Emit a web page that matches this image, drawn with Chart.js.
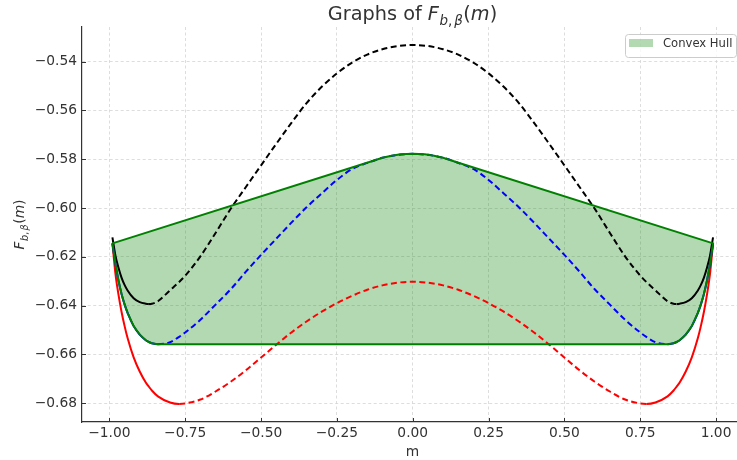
<!DOCTYPE html>
<html>
<head>
<meta charset="utf-8">
<script src="https://cdn.jsdelivr.net/npm/chart.js@4.4.0/dist/chart.umd.min.js"></script>
<style>
  html, body { margin: 0; padding: 0; background: #fff; }
  #wrap { width: 737px; height: 460px; position: relative; }
</style>
</head>
<body>
<div id="wrap"><canvas id="chart"></canvas></div>
<script>
// sample points along m (shared by the three curves)
const mValues = [
  -0.99, -0.98, -0.97, -0.96, -0.95, -0.94, -0.92, -0.90, -0.88, -0.87, -0.86, -0.84,
  -0.80, -0.77, -0.75, -0.70, -0.65, -0.60, -0.55, -0.50, -0.45, -0.40, -0.35, -0.30,
  -0.25, -0.20, -0.15, -0.10, -0.05, 0.00, 0.05, 0.10, 0.15, 0.20, 0.25, 0.30, 0.35,
  0.40, 0.45, 0.50, 0.55, 0.60, 0.65, 0.70, 0.75, 0.77, 0.80, 0.84, 0.86, 0.87, 0.88,
  0.90, 0.92, 0.94, 0.95, 0.96, 0.97, 0.98, 0.99
];

const redF = [
  -0.6145, -0.6270, -0.6355, -0.6425, -0.6483, -0.6533, -0.6612, -0.6670, -0.6715, -0.6732, -0.6748, -0.6772,
  -0.6797, -0.6803, -0.6801, -0.6785, -0.6752, -0.6712, -0.6665, -0.6613, -0.6560, -0.6510, -0.6465, -0.6425,
  -0.6390, -0.6360, -0.6335, -0.6317, -0.6306, -0.6302, -0.6306, -0.6317, -0.6335, -0.6360, -0.6390, -0.6425, -0.6465,
  -0.6510, -0.6560, -0.6613, -0.6665, -0.6712, -0.6752, -0.6785, -0.6801, -0.6803, -0.6797, -0.6772, -0.6748, -0.6732, -0.6715,
  -0.6670, -0.6612, -0.6533, -0.6483, -0.6425, -0.6355, -0.6270, -0.6145
];

const blackF = [
  -0.6120, -0.6195, -0.6245, -0.6285, -0.6315, -0.6338, -0.6370, -0.6386, -0.6392, -0.6393, -0.6392, -0.6382,
  -0.6337, -0.6303, -0.6277, -0.6198, -0.6102, -0.6003, -0.5914, -0.5825, -0.5737, -0.5651, -0.5570, -0.5503,
  -0.5448, -0.5404, -0.5371, -0.5349, -0.5336, -0.5332, -0.5336, -0.5349, -0.5371, -0.5404, -0.5448, -0.5503, -0.5570,
  -0.5651, -0.5737, -0.5825, -0.5914, -0.6003, -0.6102, -0.6198, -0.6277, -0.6303, -0.6337, -0.6382, -0.6392, -0.6393, -0.6392,
  -0.6386, -0.6370, -0.6338, -0.6315, -0.6285, -0.6245, -0.6195, -0.6120
];

const blueF = [
  -0.6145, -0.6230, -0.6298, -0.6352, -0.6395, -0.6430, -0.6484, -0.6519, -0.6542, -0.6549, -0.6554, -0.6558,
  -0.6550, -0.6528, -0.6510, -0.6458, -0.6396, -0.6333, -0.6261, -0.6192, -0.6126, -0.6060, -0.5997, -0.5940,
  -0.5885, -0.5840, -0.5815, -0.5794, -0.5782, -0.5778, -0.5782, -0.5794, -0.5815, -0.5840, -0.5885, -0.5940, -0.5997,
  -0.6060, -0.6126, -0.6192, -0.6261, -0.6333, -0.6396, -0.6458, -0.6510, -0.6528, -0.6550, -0.6558, -0.6554, -0.6549, -0.6542,
  -0.6519, -0.6484, -0.6430, -0.6395, -0.6352, -0.6298, -0.6230, -0.6145
];

// convex hull outline: upper edge left->right, then lower edge right->left
const hullUpperM = [-0.99, -0.13, -0.10, -0.07, -0.04, 0.00, 0.04, 0.07, 0.10, 0.13, 0.99];
const hullUpperF = [-0.6145, -0.5806, -0.5794, -0.5786, -0.5780, -0.5778, -0.5780, -0.5786, -0.5794, -0.5806, -0.6145];
const hullLowerM = [0.99, 0.98, 0.97, 0.96, 0.95, 0.94, 0.92, 0.90, 0.88, 0.87, 0.86, 0.84,
                    -0.84, -0.86, -0.87, -0.88, -0.90, -0.92, -0.94, -0.95, -0.96, -0.97, -0.98, -0.99];
const hullLowerF = [-0.6145, -0.6230, -0.6298, -0.6352, -0.6395, -0.6430, -0.6484, -0.6519, -0.6542, -0.6549, -0.6554, -0.6558,
                    -0.6558, -0.6554, -0.6549, -0.6542, -0.6519, -0.6484, -0.6430, -0.6395, -0.6352, -0.6298, -0.6230, -0.6145];

const xTicks = [-1.00, -0.75, -0.50, -0.25, 0.00, 0.25, 0.50, 0.75, 1.00];
const yTicks = [-0.68, -0.66, -0.64, -0.62, -0.60, -0.58, -0.56, -0.54];

const FONT = "'DejaVu Sans', sans-serif";
const TEXT = '#333333';

const pts = (xs, ys) => xs.map((x, i) => ({ x: x, y: ys[i] }));
const hullPts = pts(hullUpperM, hullUpperF).concat(pts(hullLowerM, hullLowerF));

// dashed between the two minima, solid outside
function dashInside(limit) {
  return ctx => (ctx.p0.parsed.x >= -limit - 1e-9 && ctx.p1.parsed.x <= limit + 1e-9) ? [6, 3.5] : undefined;
}

const fmt = v => (v < -1e-9 ? '\u2212' : '') + Math.abs(v).toFixed(2);

// draws a run of text pieces (mathtext-ish) starting at x
function drawRun(ctx, parts, x, y) {
  parts.forEach(p => {
    ctx.font = (p.it ? 'italic ' : '') + p.size + 'px ' + FONT;
    ctx.fillText(p.t, x, y + (p.dy || 0));
    x += ctx.measureText(p.t).width + (p.gap || 0);
  });
}
function runWidth(ctx, parts) {
  let w = 0;
  parts.forEach(p => {
    ctx.font = (p.it ? 'italic ' : '') + p.size + 'px ' + FONT;
    w += ctx.measureText(p.t).width + (p.gap || 0);
  });
  return w;
}
function mathLabel(big, small, dy) {
  return [
    { t: 'F', it: true, size: big, gap: 0.5 },
    { t: 'b', it: true, size: small, dy: dy },
    { t: ',', size: small, dy: dy, gap: big * 0.1 },
    { t: '\u03b2', it: true, size: small, dy: dy, gap: 0.5 },
    { t: '(', size: big },
    { t: 'm', it: true, size: big },
    { t: ')', size: big }
  ];
}

const decorPlugin = {
  id: 'decor',
  afterDraw(chart) {
    const ctx = chart.ctx;
    const area = chart.chartArea;
    const xs = chart.scales.x, ys = chart.scales.y;
    ctx.save();

    // inward tick marks
    ctx.strokeStyle = TEXT;
    ctx.lineWidth = 1;
    ctx.beginPath();
    xTicks.forEach(v => {
      const px = Math.round(xs.getPixelForValue(v)) + 0.5;
      ctx.moveTo(px, area.bottom); ctx.lineTo(px, area.bottom - 4);
    });
    yTicks.forEach(v => {
      const py = Math.round(ys.getPixelForValue(v)) + 0.5;
      ctx.moveTo(area.left, py); ctx.lineTo(area.left + 4, py);
    });
    ctx.stroke();

    ctx.fillStyle = TEXT;
    ctx.textBaseline = 'alphabetic';
    ctx.textAlign = 'left';

    // title
    const title = [{ t: 'Graphs of ', size: 19.3 }].concat(mathLabel(19.3, 13.5, 5));
    const cx = 412.5;
    drawRun(ctx, title, cx - runWidth(ctx, title) / 2, 20);

    // x label
    ctx.font = '13.8px ' + FONT;
    ctx.textAlign = 'center';
    ctx.fillText('m', cx, 456);
    ctx.textAlign = 'left';

    // y label (rotated)
    const yl = mathLabel(13.8, 9.7, 3.7);
    ctx.save();
    ctx.translate(24, (area.top + area.bottom) / 2);
    ctx.rotate(-Math.PI / 2);
    drawRun(ctx, yl, -runWidth(ctx, yl) / 2, 0);
    ctx.restore();

    // legend box
    const lx = 625, ly = 34, lw = 111, lh = 23;
    ctx.fillStyle = 'rgba(255,255,255,0.8)';
    ctx.strokeStyle = '#cccccc';
    ctx.lineWidth = 1;
    ctx.beginPath();
    ctx.roundRect(lx + 0.5, ly + 0.5, lw, lh, 3);
    ctx.fill();
    ctx.stroke();
    ctx.fillStyle = 'rgba(0,128,0,0.3)';
    ctx.fillRect(629, 39, 24, 8);
    ctx.fillStyle = TEXT;
    ctx.font = '11.6px ' + FONT;
    ctx.textBaseline = 'middle';
    ctx.fillText('Convex Hull', 663, 44);

    ctx.restore();
  }
};

new Chart(document.getElementById('chart'), {
  type: 'scatter',
  data: {
    datasets: [
      {
        label: 'hull edge',
        data: hullPts,
        showLine: true,
        borderColor: '#008000',
        borderWidth: 2,
        pointRadius: 0,
        tension: 0,
        fill: false
      },
      {
        label: 'blue',
        data: pts(mValues, blueF),
        showLine: true,
        borderColor: '#0000ff',
        borderWidth: 2,
        pointRadius: 0,
        cubicInterpolationMode: 'monotone',
        segment: { borderDash: dashInside(0.84) }
      },
      {
        label: 'black',
        data: pts(mValues, blackF),
        showLine: true,
        borderColor: '#000000',
        borderWidth: 2,
        pointRadius: 0,
        cubicInterpolationMode: 'monotone',
        segment: { borderDash: dashInside(0.87) }
      },
      {
        label: 'red',
        data: pts(mValues, redF),
        showLine: true,
        borderColor: '#ff0000',
        borderWidth: 2,
        pointRadius: 0,
        cubicInterpolationMode: 'monotone',
        segment: { borderDash: dashInside(0.77) }
      },
      {
        label: 'Convex Hull',
        data: hullPts,
        showLine: true,
        borderWidth: 0,
        borderColor: 'rgba(0,0,0,0)',
        backgroundColor: 'rgba(0,128,0,0.3)',
        pointRadius: 0,
        tension: 0,
        fill: 'shape'
      }
    ]
  },
  options: {
    responsive: true,
    maintainAspectRatio: false,
    animation: false,
    layout: { padding: { top: 27, right: 0, left: 0, bottom: 0 } },
    plugins: {
      legend: { display: false },
      title: { display: false },
      tooltip: { enabled: false }
    },
    scales: {
      x: {
        type: 'linear',
        min: -1.0903,
        max: 1.069,
        afterBuildTicks: scale => { scale.ticks = xTicks.map(v => ({ value: v })); },
        afterFit: scale => { scale.height = 38; },
        grid: { color: '#d4d4d4', lineWidth: 0.8, drawTicks: false },
        border: { color: TEXT, width: 1.2, dash: [3, 2.5] },
        ticks: {
          color: TEXT,
          padding: 3,
          maxRotation: 0,
          autoSkip: false,
          font: { family: FONT, size: 13.8 },
          callback: v => fmt(v)
        }
      },
      y: {
        type: 'linear',
        min: -0.6877,
        max: -0.5258,
        afterBuildTicks: scale => { scale.ticks = yTicks.map(v => ({ value: v })); },
        afterFit: scale => { scale.width = 82; },
        grid: { color: '#d4d4d4', lineWidth: 0.8, drawTicks: false },
        border: { color: TEXT, width: 1.2, dash: [3, 2.5] },
        ticks: {
          color: TEXT,
          padding: 5,
          autoSkip: false,
          font: { family: FONT, size: 13.8 },
          callback: v => fmt(v)
        }
      }
    }
  },
  plugins: [decorPlugin]
});
</script>
</body>
</html>
